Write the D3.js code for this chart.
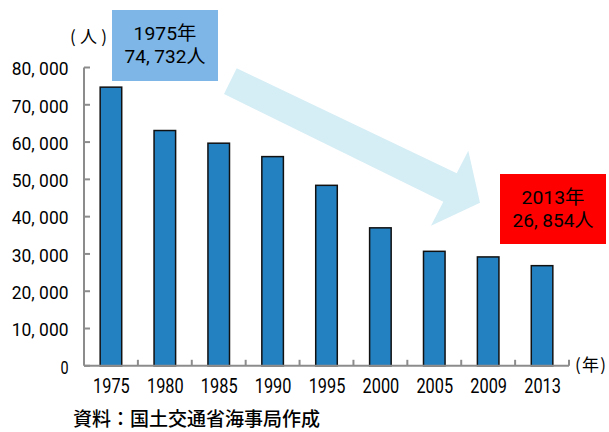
<!DOCTYPE html>
<html>
<head>
<meta charset="utf-8">
<script src="https://cdn.jsdelivr.net/npm/d3@7"></script>
<style>
  html, body { margin: 0; padding: 0; background: #fff; }
  svg { display: block; }
  text { font-family: Roboto, "Noto Sans CJK JP", "Noto Sans", sans-serif; fill: #000; }
  text.cjk { font-family: "Noto Sans CJK JP", sans-serif; }
</style>
</head>
<body>
<svg id="chart" width="609" height="432"></svg>
<script>
// ---- data ----
const years = ["1975", "1980", "1985", "1990", "1995", "2000", "2005", "2009", "2013"];
const values = [74732, 63100, 59700, 56100, 48400, 37000, 30700, 29200, 26854];
const yTicks = [0, 10000, 20000, 30000, 40000, 50000, 60000, 70000, 80000];
const yUnit = "(人)";
const xUnit = "(年)";
const sourceText = "資料：国土交通省海事局作成";
const noteYears = ["1975", "2013"];
const noteLines = [["1975年", "74, 732人"], ["2013年", "26, 854人"]];
const noteColors = ["#7db6e7", "#ff0000"];

// ---- layout ----
const svg = d3.select("#chart");
const axisX0 = 84, axisX1 = 569, axisY0 = 365.8, axisYTop = 67.5;

const x = d3.scaleBand().domain(years).range([axisX0, axisX1])
  .paddingInner(0.6).paddingOuter(0.3);
const y = d3.scaleLinear().domain([0, 80000]).range([axisY0, axisYTop]);

const fmt = v => d3.format(",")(v).replace(",", ", ");

// arrow (decorative annotation)
const arrowPts = [[236.7, 68.3], [456.7, 173.3], [468.3, 150.7], [480, 202.7],
                  [431, 225.7], [443.3, 201.7], [224, 94]];
svg.append("polygon")
  .attr("points", arrowPts.map(p => p.join(",")).join(" "))
  .attr("fill", "#d5edf5");

// bars
svg.append("g").selectAll("rect").data(values).join("rect")
  .attr("x", (d, i) => x(years[i]))
  .attr("width", x.bandwidth())
  .attr("y", d => y(d))
  .attr("height", d => y(0) - y(d))
  .attr("fill", "#2481c1")
  .attr("stroke", "#111")
  .attr("stroke-width", 1.5);

// y axis
const gy = svg.append("g");
gy.append("line").attr("x1", axisX0).attr("x2", axisX0)
  .attr("y1", y(80000)).attr("y2", y(0))
  .attr("stroke", "#8c8c8c").attr("stroke-width", 2);
gy.selectAll("line.tick").data(yTicks).join("line").attr("class", "tick")
  .attr("x1", axisX0).attr("x2", axisX0 + 6)
  .attr("y1", d => y(d)).attr("y2", d => y(d))
  .attr("stroke", "#8c8c8c").attr("stroke-width", 2);
gy.selectAll("text").data(yTicks).join("text")
  .attr("x", 68.5)
  .attr("y", d => y(d) + 7.8)
  .attr("text-anchor", "end")
  .attr("font-size", 17.8)
  .attr("textLength", d => fmt(d).length * 8.1)
  .attr("lengthAdjust", "spacingAndGlyphs")
  .text(d => fmt(d));

// x axis
const gx = svg.append("g");
gx.append("line").attr("x1", axisX0).attr("x2", axisX1)
  .attr("y1", axisY0).attr("y2", axisY0)
  .attr("stroke", "#8c8c8c").attr("stroke-width", 2);
const bounds = d3.range(years.length + 1).map(i => axisX0 + i * x.step());
gx.selectAll("line.tick").data(bounds.slice(1)).join("line").attr("class", "tick")
  .attr("x1", d => d).attr("x2", d => d)
  .attr("y1", axisY0).attr("y2", axisY0 - 6)
  .attr("stroke", "#8c8c8c").attr("stroke-width", 2);
gx.selectAll("text").data(years).join("text")
  .attr("x", d => x(d) + x.bandwidth() / 2 + 0.5)
  .attr("y", 393.3)
  .attr("text-anchor", "middle")
  .attr("font-size", 21)
  .attr("textLength", 36.7)
  .attr("lengthAdjust", "spacingAndGlyphs")
  .text(d => d);

// units
svg.append("text").attr("class", "cjk").attr("x", 70).attr("y", 42.5)
  .attr("font-size", 17).attr("textLength", 37).attr("lengthAdjust", "spacing")
  .text(yUnit);
svg.append("text").attr("class", "cjk").attr("x", 575).attr("y", 370.5)
  .attr("font-size", 17).attr("textLength", 31).attr("lengthAdjust", "spacing")
  .text(xUnit);

// notes
const boxes = [{x: 112, y: 10, w: 106, h: 71}, {x: 500, y: 174, w: 106, h: 70}];
noteYears.forEach((yr, i) => {
  const b = boxes[i];
  const g = svg.append("g");
  g.append("rect").attr("x", b.x).attr("y", b.y).attr("width", b.w).attr("height", b.h)
    .attr("fill", noteColors[i]);
  noteLines[i].forEach((t, j) => {
    g.append("text")
      .attr("x", b.x + b.w / 2)
      .attr("y", b.y + (j === 0 ? 29.5 : 53))
      .attr("text-anchor", "middle")
      .attr("font-size", 19)
      .attr("textLength", j === 0 ? 63 : 81)
      .attr("lengthAdjust", "spacingAndGlyphs")
      .text(t);
  });
});

// source
svg.append("text").attr("class", "cjk").attr("x", 73).attr("y", 426)
  .attr("font-size", 19).attr("font-weight", 500)
  .text(sourceText);
</script>
</body>
</html>
